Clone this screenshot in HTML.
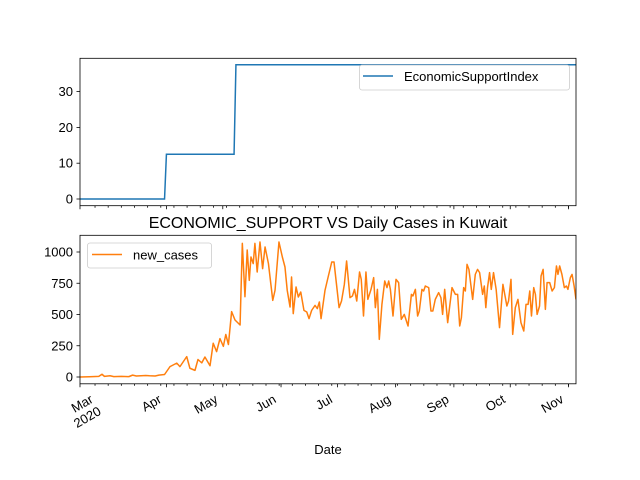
<!DOCTYPE html>
<html><head><meta charset="utf-8"><style>
body{margin:0;background:#fff}
svg{display:block;font-family:"Liberation Sans","DejaVu Sans",sans-serif}
</style></head><body>
<svg id="chart" width="640" height="480" viewBox="0 0 640 480">
<defs>
<clipPath id="c1"><rect x="80" y="58.3" width="496" height="147.4"/></clipPath>
<clipPath id="c2"><rect x="80" y="235.3" width="496" height="148.5"/></clipPath>
</defs>
<g id="topPanel"></g>
<g id="botPanel"></g>
<text x="328" y="228" text-anchor="middle" font-size="16" fill="#000">ECONOMIC_SUPPORT VS Daily Cases in Kuwait</text>
<text x="328" y="454" text-anchor="middle" font-size="13" fill="#000">Date</text>
</svg>
<script>
// days since 2020-02-15
const esiDays = [0, 45, 46, 82, 83, 264];
const esiValues = [0, 0, 12.5, 12.5, 37.5, 37.5];
const caseDays = [0,5,10,11.7,13,16,18,22,26,28,30,35,37,40,42,45,47.9,51.5,53.2,56.8,58.5,61.2,62.8,64.8,66.5,69.2,70.9,72.7,74.5,76.3,77.6,79,80.7,82.5,85.2,86.4,87.8,89,90.1,91,92.2,93.1,94.3,95.8,97.2,98.5,100.3,102.6,103.8,105.9,107.7,109.1,110.3,111.8,112.6,113.5,115,116.2,117.5,119.2,120.7,121.9,123.3,125.1,126.3,127.4,128.3,130.4,132.2,134,135.2,137.9,139.2,140.7,141.9,143.7,145,146.1,147.3,148.8,149.7,150.9,152.2,153.2,154.9,156.3,157.2,158.3,159.3,160.7,162.2,163.4,164.3,165.2,166.6,168.2,169.6,171,172.6,174.6,176.4,177.2,178.5,179.7,180.6,182,182.9,183.8,185.6,186.8,187.8,189.1,190.9,192.1,193,194.1,195.7,198,199.8,201,202.1,203,204.2,205.1,206,207,209,210.4,211.6,212.7,214.3,215.2,216,216.9,218,218.9,220.1,221.5,223.3,225.1,226.4,227.2,228.1,229.4,230.3,231.7,233.1,234.7,236.2,237.4,238.5,239.4,240.3,241.5,242.4,243.3,244.6,245.4,246.5,247.7,248.6,250,251.3,252.5,253.6,254.4,255.3,256.5,257.8,258.9,259.7,261,261.9,263,264];
const caseValues = [0,2,5,22,5,10,3,5,3,15,8,12,10,8,15,20,83,111,83,163,70,53,140,113,160,90,270,203,307,245,340,260,523,456,416,1069,642,1016,773,960,907,1069,840,1080,867,1040,907,613,693,1080,960,880,693,560,800,507,720,640,680,533,520,467,533,573,547,600,467,693,808,920,920,555,608,741,928,635,648,701,608,840,781,488,840,621,701,795,555,701,301,581,768,715,768,701,488,781,755,461,501,408,661,648,701,488,528,701,688,728,715,528,528,621,675,635,501,701,435,715,661,661,408,475,715,688,901,861,621,821,861,835,661,728,555,715,835,701,835,701,395,741,635,568,608,781,341,555,621,435,368,581,581,688,488,715,661,501,568,808,861,541,755,755,688,715,888,821,888,821,715,728,701,795,821,728,621,595];
const monthTickDays = [0,46,76,107,137,168,199,229,260];
const monthLabels = ["Mar","Apr","May","Jun","Jul","Aug","Sep","Oct","Nov"];
const topTicks = [0,10,20,30];
const botTicks = [0,250,500,750,1000];

const NS="http://www.w3.org/2000/svg";
const X0=80, XMAX=264, PXD=496/264;
const xs = d => X0 + d*PXD;
const yTop = v => 199 - v*3.58;
const yBot = v => 377 - v*0.125;
function mk(p,tag,attrs){const e=document.createElementNS(NS,tag);for(const k in attrs)e.setAttribute(k,attrs[k]);p.appendChild(e);return e;}
const topG=document.getElementById('topPanel'), botG=document.getElementById('botPanel');

function axes(g,y0,y1,yf,ticks,labelsX){
  for(let d=8; d<=XMAX; d+=7){
    const t=mk(g,'line',{x1:xs(d),x2:xs(d),y1:y1,y2:y1+2,stroke:'#000','stroke-width':0.8});
    
    
  }
  monthTickDays.forEach((d,i)=>{
    const t=mk(g,'line',{x1:xs(d),x2:xs(d),y1:y1,y2:y1+3.5,stroke:'#000','stroke-width':0.8});
    
    
    if(labelsX){
      let x=xs(d)-4, y=y1+18;
      if(i===0){ x=xs(d)+14; y=y1+18; }
      const tx=mk(g,'text',{x:x,y:y,'text-anchor':'end','font-size':13,transform:`rotate(-30 ${x} ${y})`});
      tx.textContent=monthLabels[i];
      
      
    }
  });
  ticks.forEach(v=>{
    const y=yf(v);
    const t=mk(g,'line',{x1:X0-3.5,x2:X0,y1:y,y2:y,stroke:'#000','stroke-width':0.8});
    
    
    const tx=mk(g,'text',{x:X0-7,y:y+4.5,'text-anchor':'end','font-size':13});
    tx.textContent=v;
    
    
  });
}

axes(topG,58.3,205.7,yTop,topTicks,false);
const pl1=mk(topG,'polyline',{points:esiDays.map((d,i)=>xs(d)+','+yTop(esiValues[i])).join(' '),fill:'none',stroke:'#1f77b4','stroke-width':1.5,'clip-path':'url(#c1)'});


const f1=mk(topG,'rect',{x:80,y:58.3,width:496,height:147.4,fill:'none',stroke:'#000','stroke-width':0.8});


const lg1=mk(topG,'g',{});


mk(lg1,'rect',{x:359.5,y:65,width:210,height:25,rx:2.5,fill:'#fff','fill-opacity':0.8,stroke:'#ccc','stroke-width':0.8});
mk(lg1,'line',{x1:363,x2:393,y1:76,y2:76,stroke:'#1f77b4','stroke-width':1.5});
const lt1=mk(lg1,'text',{x:404,y:81,'font-size':13});lt1.textContent='EconomicSupportIndex';

axes(botG,235.3,383.8,yBot,botTicks,true);
const pl2=mk(botG,'polyline',{points:caseDays.map((d,i)=>xs(d)+','+yBot(caseValues[i])).join(' '),fill:'none',stroke:'#ff7f0e','stroke-width':1.5,'stroke-linejoin':'round','clip-path':'url(#c2)'});


const f2=mk(botG,'rect',{x:80,y:235.3,width:496,height:148.5,fill:'none',stroke:'#000','stroke-width':0.8});


const yx=xs(0)+22, yy=383.8+30;
const yr=mk(botG,'text',{x:yx,y:yy,'text-anchor':'end','font-size':13,transform:`rotate(-30 ${yx} ${yy})`});
yr.textContent='2020';


const lg2=mk(botG,'g',{});


mk(lg2,'rect',{x:87.5,y:243,width:124,height:25,rx:2.5,fill:'#fff','fill-opacity':0.8,stroke:'#ccc','stroke-width':0.8});
mk(lg2,'line',{x1:92,x2:122,y1:254.5,y2:254.5,stroke:'#ff7f0e','stroke-width':1.5});
const lt2=mk(lg2,'text',{x:133,y:259.5,'font-size':13});lt2.textContent='new_cases';
</script>
</body></html>
